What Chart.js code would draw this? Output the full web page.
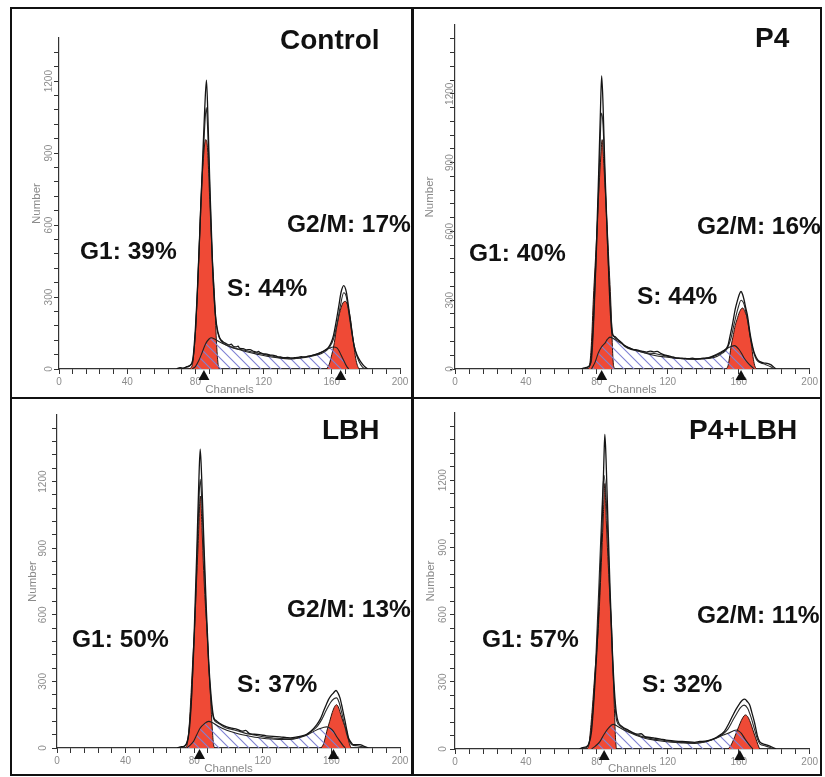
<!DOCTYPE html>
<html>
<head>
<meta charset="utf-8">
<script src="https://cdn.jsdelivr.net/npm/chart.js@4"></script>
<style>
  html, body { margin: 0; padding: 0; background: #fff; }
  body { width: 825px; height: 777px; position: relative; overflow: hidden; font-family: "Liberation Sans", Arial, sans-serif; }
  .frame { position: absolute; left: 10px; top: 7px; width: 812px; height: 769px; box-sizing: border-box; border: 2px solid #111; }
  .vdiv { position: absolute; left: 411px; top: 7px; width: 3px; height: 769px; background: #111; }
  .hdiv { position: absolute; left: 10px; top: 397px; width: 812px; height: 2px; background: #111; }
  .panel { position: absolute; }
  .txt { position: absolute; white-space: nowrap; font-weight: bold; color: #111; line-height: 1; z-index: 5; }
</style>
</head>
<body>
<div class="frame"></div>
<div class="vdiv"></div>
<div class="hdiv"></div>
<div class="panel" id="p0"><canvas id="c0"></canvas></div>
<div class="panel" id="p1"><canvas id="c1"></canvas></div>
<div class="panel" id="p2"><canvas id="c2"></canvas></div>
<div class="panel" id="p3"><canvas id="c3"></canvas></div>
<script>
// tick labels
const xTickLabels = [0, 40, 80, 120, 160, 200]
const yTickLabels = [0, 300, 600, 900, 1200]

// panel texts
const panelTitles = ['Control', 'P4', 'LBH', 'P4+LBH']
const g1Labels = ['G1: 39%', 'G1: 40%', 'G1: 50%', 'G1: 57%']
const sLabels = ['S: 44%', 'S: 44%', 'S: 37%', 'S: 32%']
const g2Labels = ['G2/M: 17%', 'G2/M: 16%', 'G2/M: 13%', 'G2/M: 11%']

// [channel, number]
const controlOuter = [[69,0],[71,6],[73,4],[75,10],[77,16],[78.5,40],[80,170],[81,300],[82.5,560],[84,830],[85.5,1090],[86.5,1204],[87.5,1010],[88.5,760],[90,450],[91.3,270],[92.5,180],[94.4,128],[96,115],[98,106],[100,100],[101,104],[102,96],[104,92],[105,95],[106,86],[108,85],[110,80],[112,81],[114,74],[116,70],[117,73],[118,68],[120,63],[122,62],[124,58],[126,57],[128,52],[130,50],[132,47],[134,48],[136,46],[138,47],[140,48],[142,51],[144,50],[146,54],[148,56],[150,60],[152,63],[154,70],[156,78],[158,90],[159.5,108],[161,140],[162.5,195],[164,258],[165.5,322],[167,348],[168.5,322],[170,250],[171.5,170],[173,100],[175,55],[177,30],[179,12],[181,0]]
const controlInner = [[72,0],[75,8],[78,25],[80,150],[82,470],[84,800],[85.8,1050],[86.4,1090],[87.3,980],[88.5,740],[90,430],[91.5,240],[93,155],[95,118],[98,100],[102,90],[106,82],[110,76],[114,70],[118,64],[122,58],[126,52],[130,47],[134,44],[138,43],[142,46],[146,50],[150,56],[154,65],[157,78],[159,95],[161,125],[163,185],[165,262],[167,318],[168.5,302],[170,232],[172,140],[174,70],[176,30],[178,8],[180,0]]
const controlG1 = [[76,0],[78,12],[80,150],[81,290],[82,460],[83.2,700],[84.5,860],[86,956],[87,930],[88.4,706],[89.8,480],[91.3,290],[92.3,120],[93.3,20],[94,0]]
const controlS = [[78,0],[80,10],[82,35],[84,70],[86,105],[88,125],[89.5,130],[91,126],[94,114],[98,100],[102,88],[106,80],[110,72],[116,62],[122,53],[128,47],[135,42],[141,46],[147,53],[151,62],[155,74],[158,85],[161,92],[163,88],[164.5,72],[166,50],[167.5,28],[169,8],[170,0]]
const controlG2 = [[157,0],[158.5,20],[160,60],[161.5,110],[163,180],[165,245],[167,280],[168,282],[169.5,260],[171,206],[172,150],[173,95],[174,45],[175,15],[176,0]]
const controlMarkers = [85, 165.2]

const p4Outer = [[71,0],[73,5],[75,10],[76.5,30],[78,200],[79.5,480],[81,850],[82,1120],[82.7,1278],[83.5,1150],[84.5,880],[86,560],[87,350],[88,200],[88.8,150],[90,142],[92,128],[94,115],[96,100],[98,92],[100,86],[102,84],[104,80],[106,77],[108,74],[110,78],[112,75],[114,77],[116,68],[118,62],[120,58],[122,54],[124,50],[126,48],[128,47],[130,46],[132,45],[134,47],[136,44],[138,45],[140,47],[142,48],[144,50],[146,56],[148,62],[150,70],[152,82],[153.8,100],[155,140],[156.6,200],[158,260],[159.4,302],[160.3,325],[161.3,338],[162.2,325],[163,302],[164,265],[165,230],[166.5,150],[167.8,99],[169,65],[170.6,41],[172,32],[174.4,26],[176,25],[178,19],[179.5,10],[181,0]]
const p4Inner = [[73,0],[75,8],[77,40],[78.5,250],[80,560],[81.5,900],[82.6,1116],[83.5,1060],[84.5,850],[86,540],[87.5,300],[88.8,160],[90,138],[93,120],[96,97],[100,84],[104,77],[108,70],[112,68],[116,62],[120,55],[124,48],[128,45],[132,43],[136,42],[140,44],[144,47],[148,56],[151,70],[153.5,90],[155.5,130],[157.5,200],[159.5,262],[161.3,300],[163,282],[165,210],[167,120],[168.5,70],[170,40],[172,28],[175,20],[178,10],[180,0]]
const p4G1 = [[75,0],[76,20],[77,120],[78,302],[79,450],[80,593],[81,760],[82,900],[83,1000],[84,880],[85,740],[86,593],[87,430],[87.8,302],[88.5,150],[89.2,30],[90,0]]
const p4S = [[77,0],[79,30],[80.8,70],[82.5,95],[84.6,113],[86,130],[87.4,139],[89,134],[92,120],[95,106],[97.7,95],[102,82],[107,70],[112,60],[118,53],[125.7,46],[133,44],[140.7,46],[145,55],[150,74],[154,92],[157.5,102],[160.3,84],[162,62],[163,48],[165,28],[167,12],[168.8,0]]
const p4G2 = [[153,0],[154,15],[155,60],[155.7,99],[157,150],[158,190],[159,215],[160.5,250],[162.2,266],[163.5,250],[165,215],[166,160],[167.3,99],[168,55],[169,15],[170,0]]
const p4Markers = [82.7, 161.3]

const lbhOuter = [[70,0],[72,5],[74,8],[75.5,20],[77,70],[78.5,230],[80,520],[81.5,880],[82.7,1200],[83.5,1346],[84.3,1230],[85.5,960],[87,640],[88.5,380],[90,220],[91.3,140],[93,122],[96,106],[99,95],[102,89],[105,84],[108,76],[110,79],[112,66],[115,62],[118,60],[122,55],[126,52],[130,50],[134,47],[136,46],[140,50],[143,55],[145.6,62],[148,75],[151.5,105],[153.5,130],[155.4,165],[157,195],[158.3,218],[160,238],[161.2,248],[162.7,259],[164,245],[165,226],[166.5,175],[168,120],[169,80],[170,45],[171.5,25],[172.8,15],[175,15],[176.7,15],[178.5,10],[180.6,3],[181.5,0]]
const lbhInner = [[72,0],[74,6],[76,30],[78,180],[80,480],[81.5,820],[82.8,1120],[83.5,1210],[84.3,1130],[85.5,900],[87,600],[88.5,360],[90,200],[91.5,128],[94,112],[98,92],[102,84],[106,76],[110,66],[114,60],[118,54],[122,48],[126,45],[130,43],[134,41],[138,43],[142,50],[146,62],[149,78],[152,100],[154.5,130],[157,170],[159.5,205],[161.5,222],[163,226],[164.5,205],[166,160],[167.5,110],[169,60],[170.5,30],[172,15],[175,10],[178,5],[180,0]]
const lbhG1 = [[75,0],[76,20],[77,90],[78.2,250],[79.2,400],[80.2,541],[81.2,720],[82.3,920],[83.6,1135],[84.6,980],[85.5,800],[86.4,660],[87.4,541],[88.5,380],[89.6,220],[90.5,90],[91.3,15],[92,0]]
const lbhS = [[75.7,0],[77.5,12],[79.6,30],[81.5,60],[83.5,90],[86,110],[88.4,120],[90.5,115],[94,98],[99,80],[104,68],[108,60],[112.6,53],[117,47],[122.3,42],[129,39],[136,38],[141,46],[145.6,58],[150,76],[153.4,88],[157.3,95],[159.5,88],[161.2,75],[163,52],[165,30],[166.5,14],[168,0]]
const lbhG2 = [[154,0],[155.5,20],[157.3,75],[159,120],[160.5,160],[162,188],[163,195],[164.3,180],[165.5,150],[167,115],[168,95],[169,75],[170,35],[171,8],[171.5,0]]
const lbhMarkers = [83.1, 161.2]

const comboOuter = [[70,0],[72,6],[74,10],[75.5,25],[77,80],[78.5,240],[80,440],[81.5,700],[83,1020],[84,1300],[84.5,1404],[85.2,1290],[86.3,1000],[87.5,700],[88.8,430],[90,250],[91,160],[92,122],[94,102],[97.7,84],[100,74],[103,66],[105,68],[107,55],[110,52],[113,48],[116,44],[119,40],[122,37],[126,34],[130,33],[135.2,30],[138,34],[141,35],[144.6,42],[148,55],[152,80],[154.5,115],[156.8,152],[158.7,180],[160.6,204],[162,218],[163.4,223],[164.8,212],[166.2,196],[167.5,160],[169,115],[170.5,60],[171.8,33],[173,25],[174.7,21],[176.5,16],[178.4,10],[180,4],[181,0]]
const comboInner = [[72,0],[74,6],[76,40],[78,200],[79.5,420],[81,700],[82.5,1000],[84,1222],[85,1150],[86.2,940],[87.5,660],[88.8,400],[90,220],[91.2,125],[93,104],[97,82],[101,68],[106,54],[112,44],[118,38],[124,32],[130,29],[136,27],[142,34],[147,48],[151,66],[154,90],[156.5,125],[159,160],[161,185],[163,196],[165,182],[167,140],[169,85],[170.5,45],[172,22],[175,14],[178,6],[180,0]]
const comboG1 = [[74.5,0],[75.5,20],[76.7,110],[77.8,220],[78.8,330],[79.8,430],[80.8,538],[81.8,700],[82.8,880],[83.7,1050],[84.5,1185],[85.3,1020],[86.2,860],[87.2,700],[88.3,538],[89,380],[89.8,200],[90.5,50],[91,0]]
const comboS = [[77,0],[79,12],[81.7,33],[84,65],[86.4,92],[89.2,110],[91.5,102],[94,90],[97.7,76],[102,62],[107,48],[114,38],[122,30],[128,27],[135.2,25],[140,30],[144.6,40],[150,58],[154,70],[158.7,85],[160,80],[161.5,70],[163.5,45],[165.3,25],[167,8],[168,0]]
const comboG2 = [[154,0],[155.5,15],[157,40],[158.5,70],[160,100],[161.5,128],[163,148],[163.8,152],[165,145],[166.5,120],[168,85],[169.5,50],[170.8,20],[171.8,0]]
const comboMarkers = [84.1, 160.6]

const RED = '#ef4a36'
const HATCH = '#7f82d4'

// layout of each panel on the page
const panels = [
  { outer: controlOuter, inner: controlInner, g1: controlG1, s: controlS, g2: controlG2, markers: controlMarkers,
    yMax: 1380, lastTick: 1320, box: [11, 9, 400, 388], pad: [19, 11, 29], yWidth: 29, xHeight: 28, labelGap: 9.5,
    text: [[280, 50], [80, 260], [227, 297], [287, 233]] },
  { outer: p4Outer, inner: p4Inner, g1: p4G1, s: p4S, g2: p4G2, markers: p4Markers,
    yMax: 1500, lastTick: 1440, box: [414, 9, 406, 388], pad: [9, 9, 16], yWidth: 32, xHeight: 28, labelGap: 5,
    text: [[755, 48], [469, 262], [637, 305], [697, 235]] },
  { outer: lbhOuter, inner: lbhInner, g1: lbhG1, s: lbhS, g2: lbhG2, markers: lbhMarkers,
    yMax: 1500, lastTick: 1440, box: [11, 400, 400, 376], pad: [15, 11, 15], yWidth: 31, xHeight: 28, labelGap: 14,
    text: [[322, 440], [72, 648], [237, 693], [287, 618]] },
  { outer: comboOuter, inner: comboInner, g1: comboG1, s: comboS, g2: comboG2, markers: comboMarkers,
    yMax: 1500, lastTick: 1440, box: [414, 400, 406, 376], pad: [10, 10, 13], yWidth: 31, xHeight: 27, labelGap: 12,
    text: [[689, 440], [482, 648], [642, 693], [697, 624]] }
]

// diagonal hatch for the S-phase fill, made on the panel's own canvas
function hatchPattern(target) {
  const c = document.createElement('canvas')
  c.width = 10; c.height = 10
  const g = c.getContext('2d')
  g.strokeStyle = HATCH
  g.lineWidth = 1.1
  g.beginPath()
  g.moveTo(-1, -1); g.lineTo(11, 11)
  g.moveTo(-1, 9); g.lineTo(1, 11)
  g.moveTo(9, -1); g.lineTo(11, 1)
  g.stroke()
  return target.getContext('2d').createPattern(c, 'repeat')
}

// rotated y labels and the peak markers under the axis
const axisExtras = {
  id: 'axisExtras',
  afterDraw(chart, args, opts) {
    const { ctx, chartArea } = chart
    const x = chart.scales.x, y = chart.scales.y
    ctx.save()
    ctx.fillStyle = '#8c8c8c'
    ctx.font = '10px "Liberation Sans", Arial, sans-serif'
    ctx.textAlign = 'center'
    ctx.textBaseline = 'middle'
    yTickLabels.forEach(v => {
      ctx.save()
      ctx.translate(chartArea.left - opts.labelGap, y.getPixelForValue(v))
      ctx.rotate(-Math.PI / 2)
      ctx.fillText(String(v), 0, 0)
      ctx.restore()
    })
    ctx.fillStyle = '#111'
    opts.markers.forEach(ch => {
      const px = x.getPixelForValue(ch), py = chartArea.bottom
      ctx.beginPath()
      ctx.moveTo(px, py + 1)
      ctx.lineTo(px - 5.5, py + 11)
      ctx.lineTo(px + 5.5, py + 11)
      ctx.closePath()
      ctx.fill()
    })
    ctx.restore()
  }
}

function line(data, color, width, order) {
  return { data, borderColor: color, borderWidth: width, backgroundColor: 'transparent', fill: false,
           pointRadius: 0, cubicInterpolationMode: 'monotone', order }
}

panels.forEach((p, i) => {
  const holder = document.getElementById('p' + i)
  holder.style.left = p.box[0] + 'px'
  holder.style.top = p.box[1] + 'px'
  holder.style.width = p.box[2] + 'px'
  holder.style.height = p.box[3] + 'px'

  const canvas = document.getElementById('c' + i)
  const hatch = hatchPattern(canvas)
  new Chart(canvas, {
    type: 'line',
    data: {
      datasets: [
        line(p.outer, '#151515', 1.3, 0),
        line(p.inner, '#2b2b2b', 1.1, 1),
        { data: p.s, borderColor: '#222', borderWidth: 1.1, backgroundColor: hatch, fill: 'origin',
          pointRadius: 0, cubicInterpolationMode: 'monotone', order: 2 },
        { data: p.g1, borderColor: '#2a1510', borderWidth: 1, backgroundColor: RED, fill: 'origin',
          pointRadius: 0, cubicInterpolationMode: 'monotone', order: 3 },
        { data: p.g2, borderColor: '#2a1510', borderWidth: 1, backgroundColor: RED, fill: 'origin',
          pointRadius: 0, cubicInterpolationMode: 'monotone', order: 3 }
      ]
    },
    options: {
      responsive: true,
      maintainAspectRatio: false,
      animation: false,
      events: [],
      layout: { padding: { left: p.pad[0], right: p.pad[1], top: p.pad[2], bottom: 0 } },
      plugins: {
        legend: { display: false },
        tooltip: { enabled: false },
        axisExtras: { markers: p.markers, labelGap: p.labelGap }
      },
      scales: {
        x: {
          type: 'linear', min: 0, max: 200,
          border: { display: true, color: '#333', width: 1.2 },
          grid: { drawOnChartArea: false, drawTicks: true, tickLength: 5, tickColor: '#333' },
          ticks: {
            stepSize: 8, autoSkip: false, maxRotation: 0, padding: 2,
            color: '#8c8c8c', font: { size: 10, family: '"Liberation Sans", Arial, sans-serif' },
            callback: v => xTickLabels.includes(v) ? String(v) : ''
          },
          title: { display: true, text: 'Channels', color: '#8a8a8a', padding: 0,
                   font: { size: 11.5, family: '"Liberation Sans", Arial, sans-serif' } },
          afterFit(scale) { scale.height = p.xHeight }
        },
        y: {
          type: 'linear', min: 0, max: p.yMax,
          border: { display: true, color: '#333', width: 1.2 },
          grid: { drawOnChartArea: false, drawTicks: true, tickLength: 5,
                  tickColor: c => (c.tick && c.tick.value > p.lastTick) ? 'rgba(0,0,0,0)' : '#333' },
          ticks: { display: false, stepSize: 60 },
          title: { display: true, text: 'Number', color: '#8a8a8a', padding: 0,
                   font: { size: 11.5, family: '"Liberation Sans", Arial, sans-serif' } },
          afterFit(scale) { scale.width = p.yWidth }
        }
      }
    },
    plugins: [axisExtras]
  })

  // panel texts, placed by baseline
  const texts = [panelTitles[i], g1Labels[i], sLabels[i], g2Labels[i]]
  texts.forEach((t, k) => {
    const size = k === 0 ? 28 : 24.5
    const d = document.createElement('div')
    d.className = 'txt'
    d.textContent = t
    d.style.fontSize = size + 'px'
    d.style.left = p.text[k][0] + 'px'
    d.style.top = (p.text[k][1] - size * 0.85) + 'px'
    document.body.appendChild(d)
  })
})
</script>
</body>
</html>
